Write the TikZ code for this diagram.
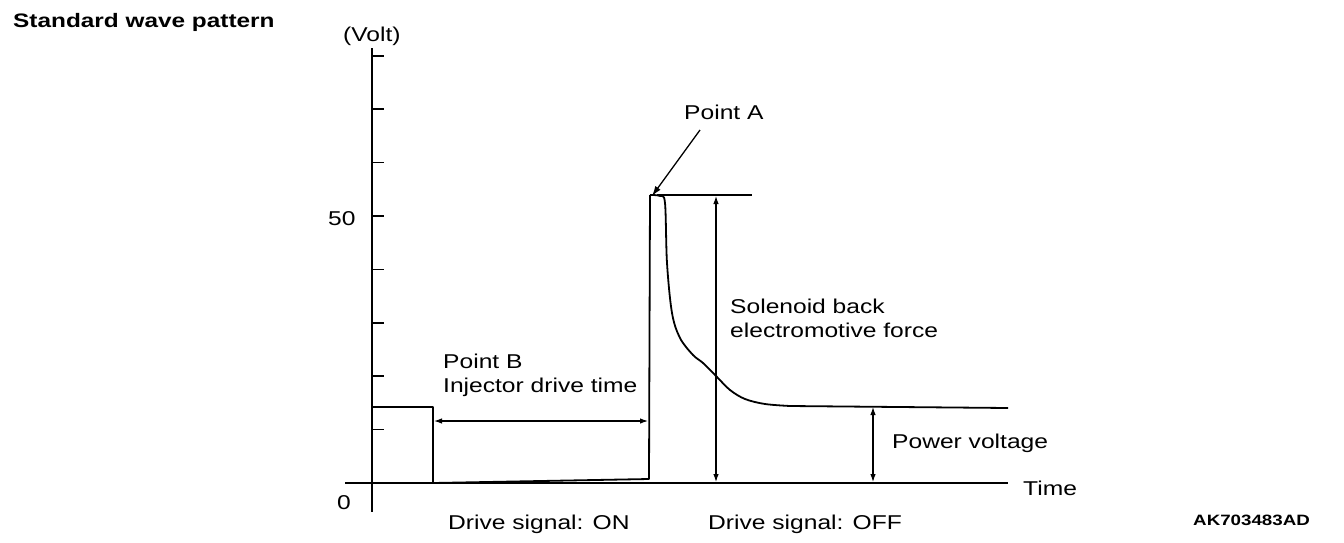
\documentclass[tikz,border=0pt]{standalone}
\usepackage{fontspec}
\usepackage{graphicx}
\setmainfont{Liberation Sans}
\usetikzlibrary{arrows.meta}
\newcommand\widetext[1]{\scalebox{1.23}[1]{#1}}
\newcommand\widebold[1]{\scalebox{1.25}[1]{#1}}
\begin{document}
\begin{tikzpicture}[x=1pt,y=-1pt,
  axisline/.style={line width=2pt},
  wave/.style={line width=1.8pt,line join=round},
  dimline/.style={line width=1.1pt,{Latex[length=8pt,width=5.5pt]}-{Latex[length=8pt,width=5.5pt]}},
  pointer/.style={line width=1.3pt,-{Latex[length=10pt,width=6.5pt]}},
  lbl/.style={inner sep=0pt,anchor=base west,font=\fontsize{20}{24}\selectfont},
  ttl/.style={inner sep=0pt,anchor=base west,font=\fontsize{19.5}{23}\selectfont\bfseries}]
\useasboundingbox (0,0) rectangle (1344,542);
% axes
\coordinate (ytop) at (372,48);
\coordinate (ybot) at (372,512);
\coordinate (xl) at (345,483);
\coordinate (xr) at (1008,483);
\draw[axisline] (ytop) -- (ybot);
\draw[axisline] (xl) -- (xr);
\foreach \yy in {55.8,109.2,162.6,216,269.4,322.8,376.2,429.6}
  \draw[line width=1.5pt] (372,\yy) -- (384,\yy);
% waveform
\draw[wave] (372,407) -- (433,407) -- (433,483);
\draw[wave] (433,483) -- (649,479) -- (650,195)
  plot[smooth,tension=0.55] coordinates {(650,195) (660,196) (665,203) (667,263) (672,313) (680,338) (693,355) (703,363) (717,377) (730,390) (745,399) (765,404) (790,406)}
  -- (1008,408);
% peak line
\coordinate (pkL) at (657,195);
\coordinate (pkR) at (752,195);
\draw[wave] (pkL) -- (pkR);
% dimension arrows
\coordinate (sTop) at (716,196);
\coordinate (sBot) at (716,482);
\draw[dimline] (sTop) -- (sBot);
\coordinate (pTop) at (873,407);
\coordinate (pBot) at (873,482);
\draw[dimline] (pTop) -- (pBot);
\coordinate (iL) at (434,421);
\coordinate (iR) at (648,421);
\draw[dimline] (iL) -- (iR);
% point A pointer
\coordinate (aTail) at (700,130);
\coordinate (aHead) at (652,196);
\draw[pointer] (aTail) -- (aHead);
% texts
\node[ttl] (title) at (13,27) {\widebold{Standard wave pattern}};
\node[lbl] (volt) at (343,41) {\widetext{(Volt)}};
\node[lbl] (fifty) at (328,225) {\widetext{50}};
\node[lbl] (zero) at (337,509) {\widetext{0}};
\node[lbl] (ptA) at (684,119) {\widetext{Point A}};
\node[lbl] (sol1) at (730,313) {\widetext{Solenoid back}};
\node[lbl] (sol2) at (730,337) {\widetext{electromotive force}};
\node[lbl] (ptB) at (443,368) {\widetext{Point B}};
\node[lbl] (inj) at (443,392) {\widetext{Injector drive time}};
\node[lbl] (pv) at (892,448) {\widetext{Power voltage}};
\node[lbl] (time) at (1023,495) {\widetext{Time}};
\node[lbl] (on) at (448,529) {\widetext{Drive signal: ON}};
\node[lbl] (off) at (708,529) {\widetext{Drive signal: OFF}};
\node[inner sep=0pt,anchor=base west,font=\fontsize{15}{18}\selectfont\bfseries] (code) at (1193,525) {\widebold{AK703483AD}};
\end{tikzpicture}
\end{document}
